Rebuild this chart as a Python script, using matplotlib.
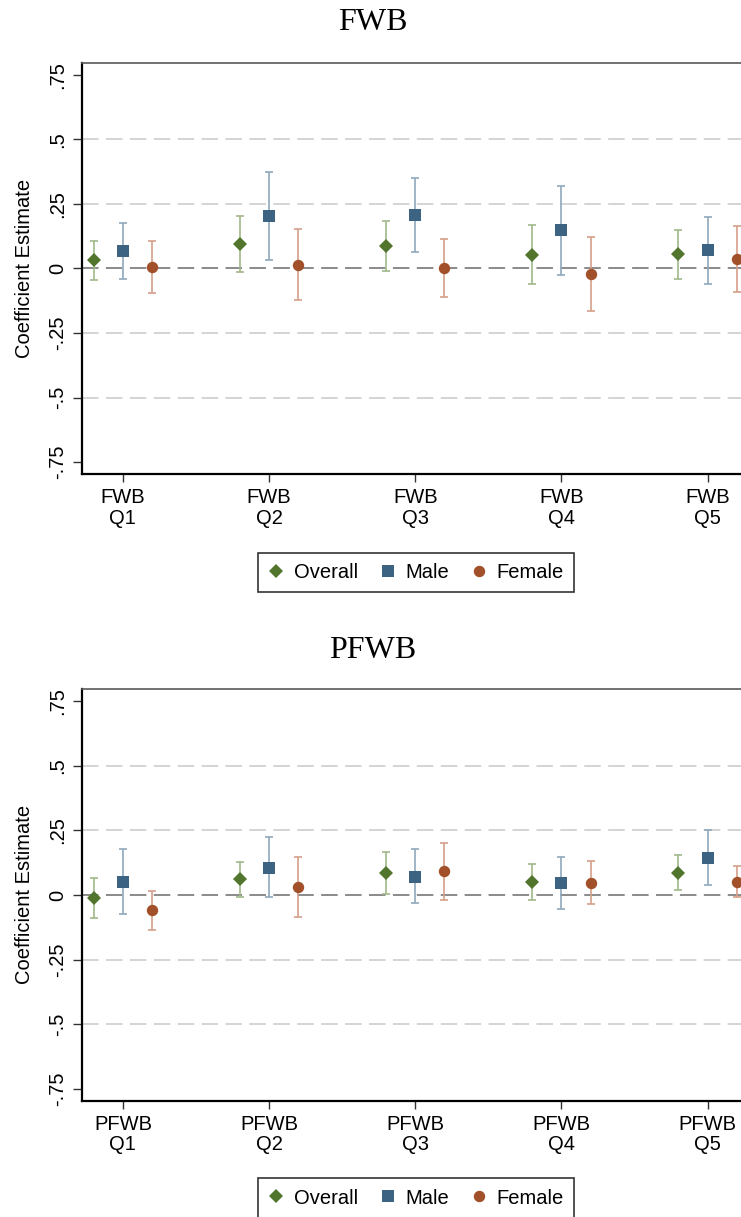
import numpy as np
import matplotlib
matplotlib.use('Agg')
import matplotlib.pyplot as plt
from matplotlib.lines import Line2D

plt.rcParams['font.family'] = ['Liberation Sans', 'DejaVu Sans']

# ---- data ----
fwb_labels = ['FWB\nQ1', 'FWB\nQ2', 'FWB\nQ3', 'FWB\nQ4', 'FWB\nQ5']
pfwb_labels = ['PFWB\nQ1', 'PFWB\nQ2', 'PFWB\nQ3', 'PFWB\nQ4', 'PFWB\nQ5']
groups = ['Overall', 'Male', 'Female']

# FWB panel: estimate, lower CI, upper CI
fwb_overall = [0.031, 0.096, 0.087, 0.053, 0.056]
fwb_overall_lo = [-0.044, -0.012, -0.010, -0.062, -0.041]
fwb_overall_hi = [0.107, 0.205, 0.185, 0.168, 0.150]
fwb_male = [0.067, 0.203, 0.207, 0.149, 0.071]
fwb_male_lo = [-0.039, 0.032, 0.062, -0.026, -0.059]
fwb_male_hi = [0.176, 0.372, 0.351, 0.320, 0.199]
fwb_female = [0.007, 0.014, 0.000, -0.021, 0.036]
fwb_female_lo = [-0.094, -0.124, -0.112, -0.164, -0.093]
fwb_female_hi = [0.108, 0.152, 0.115, 0.123, 0.166]

# PFWB panel
pfwb_overall = [-0.012, 0.060, 0.085, 0.049, 0.085]
pfwb_overall_lo = [-0.090, -0.008, 0.004, -0.021, 0.021]
pfwb_overall_hi = [0.067, 0.127, 0.166, 0.120, 0.154]
pfwb_male = [0.052, 0.106, 0.071, 0.048, 0.145]
pfwb_male_lo = [-0.074, -0.009, -0.031, -0.053, 0.039]
pfwb_male_hi = [0.178, 0.223, 0.177, 0.146, 0.252]
pfwb_female = [-0.059, 0.031, 0.091, 0.048, 0.052]
pfwb_female_lo = [-0.135, -0.084, -0.018, -0.035, -0.009]
pfwb_female_hi = [0.017, 0.146, 0.200, 0.130, 0.114]

yticks = [-0.75, -0.5, -0.25, 0, 0.25, 0.5, 0.75]
ytick_labels = ['-.75', '-.5', '-.25', '0', '.25', '.5', '.75']

# styles
marker_col = {'Overall': '#51752c', 'Male': '#3c6382', 'Female': '#a2502a'}
ci_col = {'Overall': '#9fb78a', 'Male': '#8fa8bc', 'Female': '#d49f88'}
markers = {'Overall': 'D', 'Male': 's', 'Female': 'o'}
msize = {'Overall': 7.0, 'Male': 8.0, 'Female': 8.2}
offsets = {'Overall': -0.2, 'Male': 0.0, 'Female': 0.2}

W, H = 741, 1217
fig = plt.figure(figsize=(W / 100, H / 100), dpi=100)


def draw_panel(ax, labels, series):
   x = np.arange(1, len(labels) + 1)
   for g in [0.25, 0.5, -0.25, -0.5]:
      ax.axhline(g, color='#d4d4d4', lw=1.4, dashes=(8.5, 3.8), zorder=0)
   ax.axhline(0, color='#8a8a8a', lw=1.4, dashes=(8.5, 3.8), zorder=1)
   for name, (est, lo, hi) in zip(groups, series):
      est = np.array(est)
      err = np.vstack([est - np.array(lo), np.array(hi) - est])
      xs = x + offsets[name]
      ax.errorbar(xs, est, yerr=err, fmt='none', ecolor=ci_col[name],
                  elinewidth=1.2, capsize=3.2, capthick=1.2, zorder=2)
      ax.plot(xs, est, linestyle='none', marker=markers[name],
              markersize=msize[name], color=marker_col[name],
              markeredgewidth=0, zorder=3)
   ax.set_xlim(0.72, 5.28)
   ax.set_ylim(-0.796, 0.797)
   ax.set_xticks(x)
   ax.set_xticklabels(labels, fontsize=14.5, linespacing=1.12)
   ax.set_yticks(yticks)
   ax.set_yticklabels(ytick_labels, fontsize=14.5, rotation=90, va='center')
   ax.tick_params(axis='y', length=6.5, width=1.0, pad=4, color='#333333')
   ax.tick_params(axis='x', length=5.5, width=1.0, pad=4.5, color='#333333')
   ax.set_ylabel('Coefficient Estimate', fontsize=14.5)
   ax.yaxis.set_label_coords(-0.072, 0.5)
   ax.spines['left'].set_linewidth(1.6)
   ax.spines['bottom'].set_linewidth(1.6)
   ax.spines['top'].set_color('#5a5a5a')
   ax.spines['top'].set_linewidth(1.2)
   ax.spines['right'].set_visible(False)


def add_legend(ycenter):
   handles = [Line2D([], [], linestyle='none', marker=markers[g],
                     markersize=msize[g], color=marker_col[g],
                     markeredgewidth=0) for g in groups]
   leg = fig.legend(handles, groups, loc='center', ncol=3,
                    bbox_to_anchor=(416 / W, ycenter), fontsize=14.5,
                    frameon=True, fancybox=False, handlelength=0.8,
                    handletextpad=0.5, columnspacing=1.05, borderpad=0.5,
                    borderaxespad=0)
   leg.get_frame().set_edgecolor('black')
   leg.get_frame().set_linewidth(1.2)


left = 82 / W
right = 748.5 / W
ax1 = fig.add_axes([left, 1 - 474 / H, right - left, (474 - 62.7) / H])
draw_panel(ax1, fwb_labels,
           [(fwb_overall, fwb_overall_lo, fwb_overall_hi),
            (fwb_male, fwb_male_lo, fwb_male_hi),
            (fwb_female, fwb_female_lo, fwb_female_hi)])

ax2 = fig.add_axes([left, 1 - 1100.7 / H, right - left, (1100.7 - 689) / H])
draw_panel(ax2, pfwb_labels,
           [(pfwb_overall, pfwb_overall_lo, pfwb_overall_hi),
            (pfwb_male, pfwb_male_lo, pfwb_male_hi),
            (pfwb_female, pfwb_female_lo, pfwb_female_hi)])

fig.text(373 / W, 1 - 30 / H, 'FWB', family='Liberation Serif', fontsize=23,
         ha='center', va='baseline')
fig.text(373 / W, 1 - 657.7 / H, 'PFWB', family='Liberation Serif', fontsize=23,
         ha='center', va='baseline')

add_legend(1 - 572.5 / H)
add_legend(1 - 1198 / H)

fig.savefig('out.png', dpi=100)
